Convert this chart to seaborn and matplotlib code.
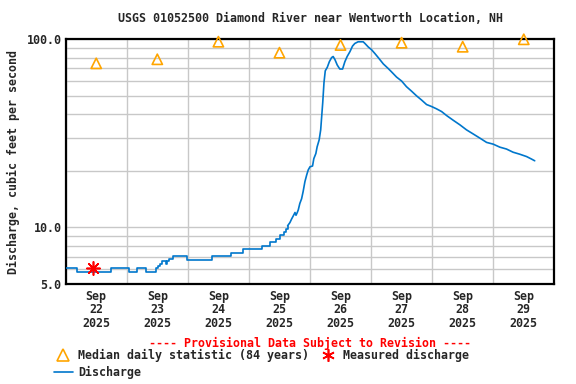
import matplotlib
matplotlib.use("Agg")
import matplotlib.pyplot as plt
from matplotlib.lines import Line2D
from matplotlib.ticker import FixedLocator, NullFormatter
import numpy as np
import pandas as pd
import seaborn as sns

# ---------------- data ----------------
title = "USGS 01052500 Diamond River near Wentworth Location, NH"
ylabel = "Discharge, cubic feet per second"
provisional = "---- Provisional Data Subject to Revision ----"

# discharge: hours since Sep 22 2025 00:00 and value (cfs)
q_hours = [0.0, 4.3, 17.9, 25.0, 27.9, 31.5, 35.5, 36.4, 37.0, 37.8, 39.4, 39.9,
           40.7, 42.0, 47.8, 57.3, 65.0, 69.8, 77.0, 80.2, 82.6, 84.2, 85.9, 86.5,
           87.2, 88.1, 88.8, 89.7, 90.1, 90.5, 91.0, 91.4, 92.0, 92.7, 93.3, 94.0,
           94.7, 95.3, 96.0, 97.0, 97.5, 98.3, 98.8, 99.6, 100.2, 100.6, 101.0, 101.5,
           102.0, 102.8, 103.6, 104.5, 105.1, 105.8, 106.7, 107.7, 108.8, 109.7,
           110.6, 111.7, 112.7, 113.6, 114.9, 116.9, 117.6, 118.9, 120.2, 121.5,
           122.8, 124.8, 126.7, 128.1, 130.0, 132.0, 133.9, 135.9, 137.9, 139.8,
           141.8, 143.8, 145.7, 147.7, 149.7, 152.3, 154.9, 157.5, 160.1, 162.8,
           165.4, 168.0, 170.6, 173.2, 175.8, 178.4, 181.1, 183.0, 184.3]
q_values = [6.05, 5.77, 6.05, 5.77, 6.05, 5.77, 6.05, 6.2, 6.4, 6.65, 6.4, 6.65,
            6.8, 7.05, 6.68, 7.05, 7.31, 7.65, 7.93, 8.33, 8.64, 9.11, 9.49, 9.8,
            10.2, 10.6, 11.1, 11.7, 12.0, 11.6, 12.0, 12.4, 13.4, 14.2, 15.5, 17.5,
            19.0, 20.2, 21.0, 21.2, 23.2, 24.7, 26.8, 29.2, 33.0, 39.0, 46.0, 59.0,
            68.0, 71.0, 76.0, 80.0, 81.0, 78.0, 73.0, 69.5, 69.5, 76.0,
            81.0, 86.0, 92.0, 95.0, 97.0, 97.0, 95.0, 91.0, 88.0, 84.0,
            80.0, 74.0, 70.0, 67.0, 63.0, 60.0, 56.0, 53.0, 50.0, 47.6,
            45.0, 43.9, 42.7, 41.3, 39.3, 37.1, 35.1, 33.0, 31.4, 29.8,
            28.3, 27.7, 26.7, 26.1, 25.1, 24.5, 23.8, 23.1, 22.6]

# median daily statistic (84 years), one per day at noon
median_days = [0.5, 1.5, 2.5, 3.5, 4.5, 5.5, 6.5, 7.5]
median_values = [74.5, 78.3, 97.1, 84.9, 93.3, 95.9, 91.3, 100.0]

# measured discharge
meas_days = [0.45]
meas_values = [6.1]

day_labels = ["Sep\n22\n2025", "Sep\n23\n2025", "Sep\n24\n2025", "Sep\n25\n2025",
              "Sep\n26\n2025", "Sep\n27\n2025", "Sep\n28\n2025", "Sep\n29\n2025"]
ytick_values = [5.0, 10.0, 100.0]
ytick_labels = ["5.0", "10.0", "100.0"]

# ---------------- style ----------------
sns.set_theme(style="white")
plt.rcParams["font.family"] = ["DejaVu Sans Mono"]
plt.rcParams["font.weight"] = "bold"
FS = 8.4
BLUE = "#0077cc"

fig = plt.figure(figsize=(5.76, 3.84), dpi=100)
ax = fig.add_axes([65.7 / 576, 1 - 284 / 384, (554.3 - 65.7) / 576, (284 - 39.3) / 384])

dfq = pd.DataFrame({"day": np.array(q_hours) / 24.0, "q": q_values})
split = 88.0 / 24.0
df_low = dfq[dfq["day"] <= split]
df_high = dfq[dfq["day"] >= dfq.loc[dfq["day"] <= split, "day"].max()]
dfm = pd.DataFrame({"day": median_days, "q": median_values})
dfs = pd.DataFrame({"day": meas_days, "q": meas_values})

ax.set_yscale("log")
ax.set_xlim(0, 8)
ax.set_ylim(5, 100)

sns.lineplot(data=df_low, x="day", y="q", ax=ax, estimator=None,
             drawstyle="steps-post", color=BLUE, linewidth=1.2, zorder=3)
sns.lineplot(data=df_high, x="day", y="q", ax=ax, estimator=None,
             color=BLUE, linewidth=1.2, zorder=3)
sns.scatterplot(data=dfm, x="day", y="q", ax=ax, marker="^", s=55,
                facecolors="none", edgecolor="#ffa500", linewidth=1.2, zorder=4,
                clip_on=False)
sns.scatterplot(data=dfs, x="day", y="q", ax=ax, marker=(8, 2, 0), s=90,
                color="red", edgecolor="red", linewidth=1.2, zorder=5)

# grid and ticks
ax.xaxis.set_major_locator(FixedLocator(np.arange(0, 9)))
ax.xaxis.set_major_formatter(NullFormatter())
ax.xaxis.set_minor_locator(FixedLocator(median_days))
ax.set_xticklabels(day_labels, minor=True, fontsize=FS, fontweight="bold",
                   linespacing=1.05)
minor_y = [6, 7, 8, 9, 20, 30, 40, 50, 60, 70, 80, 90]
ax.yaxis.set_major_locator(FixedLocator(ytick_values))
ax.yaxis.set_major_formatter(NullFormatter())
ax.set_yticklabels(ytick_labels, fontsize=FS, fontweight="bold")
ax.yaxis.set_minor_locator(FixedLocator(minor_y))
ax.yaxis.set_minor_formatter(NullFormatter())
ax.grid(True, which="major", axis="x", color="#c8c8c8", linewidth=1.0)
ax.grid(True, which="both", axis="y", color="#c8c8c8", linewidth=1.0)
ax.tick_params(axis="both", which="both", length=0, pad=3)
ax.tick_params(axis="x", which="minor", pad=4)
ax.set_xlabel("")
ax.set_ylabel("")
for sp in ax.spines.values():
    sp.set_color("black")
    sp.set_linewidth(1.6)

fig.text(310 / 576, 1 - 19 / 384, title, ha="center", va="center", fontsize=FS,
         fontweight="bold")
fig.text(13 / 576, 1 - 161.5 / 384, ylabel, rotation=90, ha="center", va="center",
         fontsize=FS, fontweight="bold")
fig.text(310 / 576, 1 - 343 / 384, provisional, ha="center", va="center", fontsize=FS,
         fontweight="bold", color="red")

handles = [
    Line2D([], [], linestyle="none", marker="^", markersize=8, markerfacecolor="none",
           markeredgecolor="#ffa500", markeredgewidth=1.2),
    Line2D([], [], color=BLUE, linewidth=1.2),
    Line2D([], [], linestyle="none", marker=(6, 2, 0), markersize=9, color="red",
           markeredgewidth=1.2),
]
labels = ["Median daily statistic (84 years)", "Discharge", "Measured discharge"]
fig.legend(handles, labels, ncol=2, loc="upper left",
           bbox_to_anchor=(54 / 576, 1 - 349 / 384), frameon=False,
           prop={"family": "DejaVu Sans Mono", "weight": "bold", "size": FS},
           handlelength=1.6, handletextpad=0.5, columnspacing=0.75,
           borderaxespad=0, borderpad=0, labelspacing=0.3)

fig.savefig("out.png", dpi=100)
